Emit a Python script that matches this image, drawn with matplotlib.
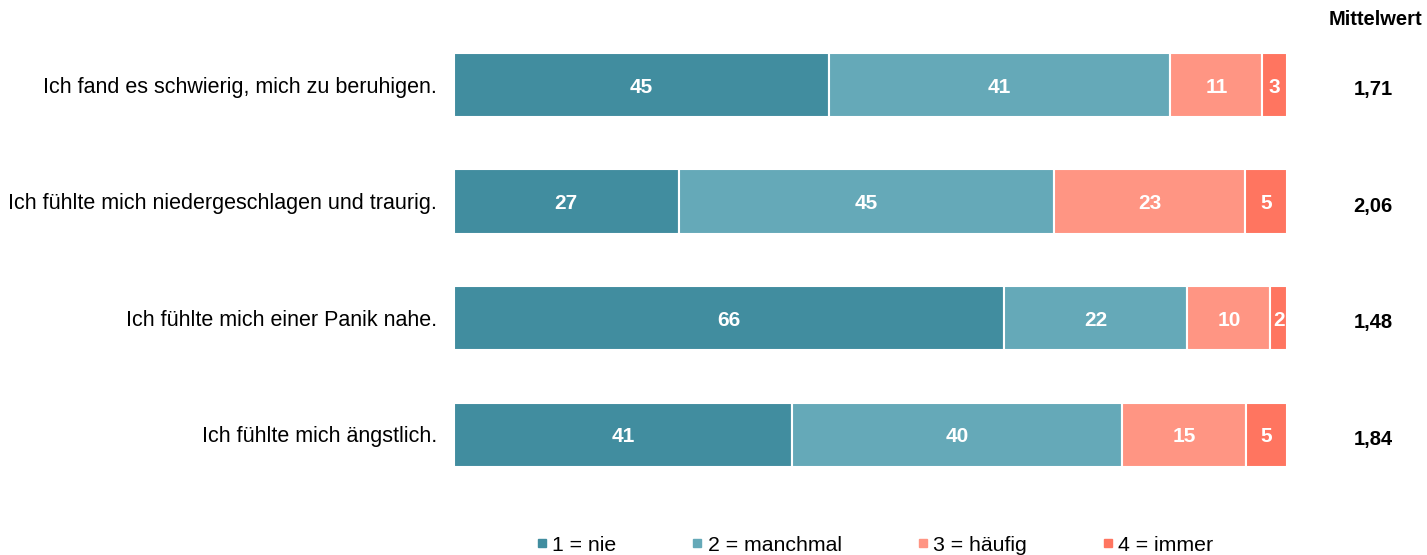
import numpy as np
import matplotlib.pyplot as plt
from matplotlib.lines import Line2D

plt.rcParams['font.family'] = ['Liberation Sans', 'DejaVu Sans']

# data
items = ["Ich fand es schwierig, mich zu beruhigen.",
         "Ich fühlte mich niedergeschlagen und traurig.",
         "Ich fühlte mich einer Panik nahe.",
         "Ich fühlte mich ängstlich."]
nie = [45, 27, 66, 41]
manchmal = [41, 45, 22, 40]
haeufig = [11, 23, 10, 15]
immer = [3, 5, 2, 5]
means = ["1,71", "2,06", "1,48", "1,84"]
series_labels = ["1 = nie", "2 = manchmal", "3 = häufig", "4 = immer"]
colors = ["#418D9F", "#65A9B8", "#FF9583", "#FF7560"]

fig = plt.figure(figsize=(14.27, 5.55), dpi=100)
ax = fig.add_axes([0.318, 0.112, 0.584, 0.840])

vals = np.array([nie, manchmal, haeufig, immer], dtype=float)
# bars are drawn as shares of the row total (rounded values may not sum to 100)
shares = vals / vals.sum(axis=0) * 100
y = np.arange(len(items))
left = np.zeros(len(items))
for k in range(4):
    ax.barh(y, shares[k], left=left, height=0.55, color=colors[k],
            edgecolor='white', linewidth=1.5)
    for i in range(len(items)):
        ax.text(left[i] + shares[k, i] / 2, y[i] + 0.02, str(int(vals[k, i])),
                ha='center', va='center', color='white', fontsize=15,
                fontweight='bold')
    left += shares[k]

for i in range(len(items)):
    ax.text(-2.0, y[i] + 0.02, items[i], ha='right', va='center', fontsize=15.5)
    ax.text(110.3, y[i] + 0.04, means[i], ha='center', va='center',
            fontsize=14.5, fontweight='bold')
ax.text(110.6, -0.56, "Mittelwert", ha='center', va='center',
        fontsize=14.5, fontweight='bold')

ax.set_xlim(0, 100)
ax.set_ylim(3.5, -0.5)
ax.axis('off')

handles = [Line2D([], [], marker='s', linestyle='none', markersize=5.5,
                  color=c) for c in colors]
fig.legend(handles, series_labels, loc='center', ncol=4,
           bbox_to_anchor=(0.612, 0.018), frameon=False, fontsize=15.3,
           columnspacing=3.4, handletextpad=0.1, handlelength=0.8)

fig.savefig("out.png", dpi=100)
